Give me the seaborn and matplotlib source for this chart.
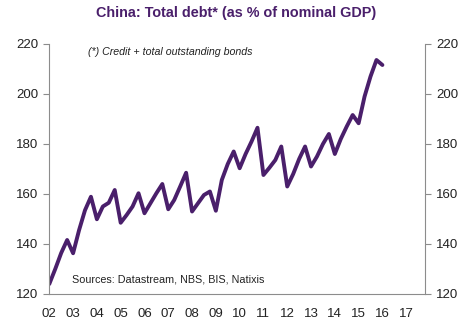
import matplotlib
matplotlib.use("Agg")
import matplotlib.pyplot as plt
import seaborn as sns
import pandas as pd
import numpy as np

# Quarterly data, 2002Q1 .. 2016Q1
start_year = 2002
debt = [124, 130, 136.4, 141.6,
        136.3, 145.5, 153.5, 158.9,
        149.9, 155, 156.5, 161.6,
        148.5, 151.6, 155, 160.3,
        152.3, 156.3, 160.3, 164,
        153.9, 157.6, 163, 168.5,
        153, 156.3, 159.6, 161,
        153.3, 165.6, 172, 177,
        170.3, 176, 181, 186.5,
        167.6, 170.5, 173.6, 179,
        163, 168, 174, 179,
        171, 175, 180, 184,
        176, 182, 187, 191.6,
        188.3, 199, 207, 213.6,
        211.6]
year_ticks = list(range(2002, 2018))
year_labels = [f"{y % 100:02d}" for y in year_ticks]
y_ticks = [120, 140, 160, 180, 200, 220]

title = "China: Total debt* (as % of nominal GDP)"
note = "(*) Credit + total outstanding bonds"
source = "Sources: Datastream, NBS, BIS, Natixis"

df = pd.DataFrame({"t": start_year + np.arange(len(debt)) / 4.0, "debt": debt})

sns.set_style("white")
plt.rcParams["font.family"] = ["Liberation Sans", "DejaVu Sans"]

purple = "#4a1f6b"
grey = "#8c8c8c"

fig = plt.figure(figsize=(4.72, 3.27), dpi=100)
ax = fig.add_axes([49.3 / 472, 1 - 294 / 327, (425 - 49.3) / 472, (294 - 44) / 327])
sns.lineplot(data=df, x="t", y="debt", ax=ax, color=purple, linewidth=2.8)

ax.set_xlim(2002, 2017.79)
ax.set_ylim(120, 220)
ax.set_xticks(year_ticks)
ax.set_xticklabels(year_labels)
ax.set_yticks(y_ticks)
ax.set_xlabel("")
ax.set_ylabel("")

for s in ["top", "right"]:
    ax.spines[s].set_visible(False)
for s in ["left", "bottom"]:
    ax.spines[s].set_color(grey)
    ax.spines[s].set_linewidth(0.8)

ax.tick_params(axis="both", which="major", direction="out", length=4, width=0.8,
               color=grey, labelsize=9.5, labelcolor="#222222", pad=4)
ax.tick_params(axis="x", pad=6)

ax2 = ax.twinx()
ax2.set_ylim(120, 220)
ax2.set_yticks(y_ticks)
for s in ["top", "left", "bottom"]:
    ax2.spines[s].set_visible(False)
ax2.spines["right"].set_color(grey)
ax2.spines["right"].set_linewidth(0.8)
ax2.tick_params(axis="y", direction="out", length=4, width=0.8, color=grey,
                labelsize=9.5, labelcolor="#222222", pad=4)

fig.text(0.5, 1 - 13 / 327, title, ha="center", va="center", fontsize=10.4,
         fontweight="bold", color=purple)
ax.text(170 / 472, 1 - 51.7 / 327, note, transform=fig.transFigure, ha="center",
        va="center", fontsize=7.7, style="italic", color="#222222")
ax.text(71.5 / 472, 1 - 279 / 327, source, transform=fig.transFigure, ha="left",
        va="center", fontsize=7.75, color="#222222")

fig.savefig("out.png", dpi=100)
